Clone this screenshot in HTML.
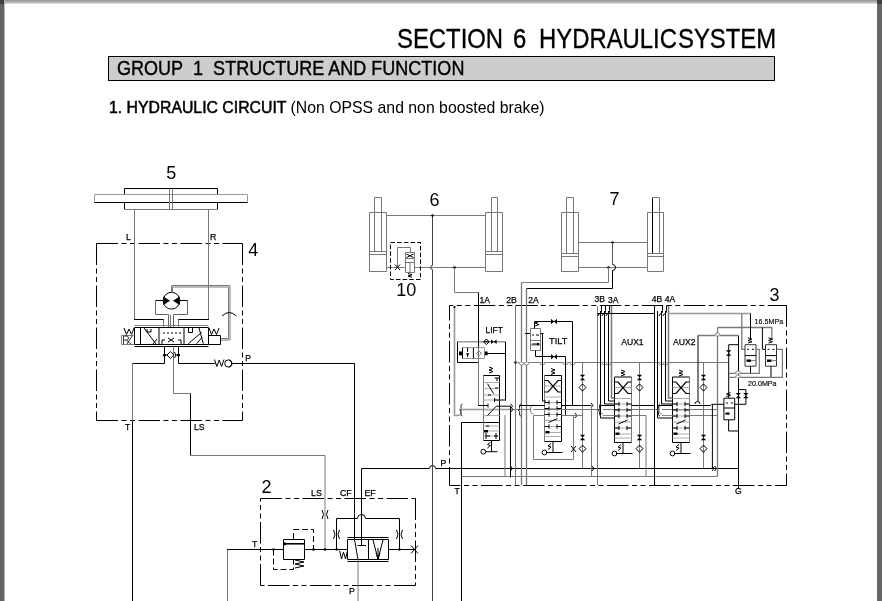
<!DOCTYPE html>
<html><head><meta charset="utf-8">
<style>
html,body{margin:0;padding:0;background:#fff;}
body{width:882px;height:601px;position:relative;overflow:hidden;font-family:"Liberation Sans",sans-serif;color:#111;}
.fr{position:absolute;}
#ft{left:0;top:0;width:882px;height:4px;background:linear-gradient(#969696,#a4a4a4 30%,#c4c4c4 70%,#e8e8e8);}
#fl{left:0;top:0;width:4px;height:601px;background:#646464;border-right:1px solid #b4b4b4;}
#fr{left:877px;top:0;width:5px;height:601px;background:#666;}
#fl2{left:0;top:0;width:4px;height:4px;background:#404040;}
#fr2{left:877px;top:0;width:5px;height:4px;background:#404040;}
.t{position:absolute;white-space:nowrap;line-height:1;filter:grayscale(1);}
.h1{top:24.8px;font-size:27.6px;transform:scaleX(0.865);transform-origin:0 0;-webkit-text-stroke:0.35px #000;color:#000;}
#gb{left:108px;top:56px;width:665px;height:23px;background:#cdcdcd;border:1px solid #000;}
#h2{left:116.8px;top:58.3px;font-size:20.6px;transform:scaleX(0.875);transform-origin:0 0;-webkit-text-stroke:0.4px #000;color:#000;}
#h3{left:109px;top:99.3px;font-size:17px;transform:scaleX(0.93);transform-origin:0 0;color:#000;}
#h3 b{font-weight:normal;-webkit-text-stroke:0.55px #000;}
svg{position:absolute;left:0;top:0;filter:grayscale(1);}
</style></head><body>
<div class="fr" id="ft"></div>
<div class="fr" id="fl"></div>
<div class="fr" id="fr"></div>
<div class="fr" id="fl2"></div>
<div class="fr" id="fr2"></div>
<div class="t h1" style="left:397.2px">SECTION</div><div class="t h1" style="left:512.8px">6</div><div class="t h1" style="left:538.6px">HYDRAULIC</div><div class="t h1" style="left:678.2px">SYSTEM</div>
<div class="fr" id="gb"></div>
<div class="t" id="h2">GROUP&nbsp; 1&nbsp; STRUCTURE AND FUNCTION</div>
<div class="t" id="h3"><b>1. HYDRAULIC CIRCUIT</b> (Non OPSS and non boosted brake)</div>
<svg width="882" height="601" viewBox="0 0 882 601">
<defs><style>
.k{stroke:#000;stroke-width:1;fill:none}
.k2{stroke:#111;stroke-width:1.3;fill:none}
.g{stroke:#787878;stroke-width:1;fill:none}
.g2{stroke:#999;stroke-width:1;fill:none}
.dd{stroke:#000;stroke-width:1;fill:none;stroke-dasharray:21.5 3.5 5 3.5 5 3.5}
.da{stroke:#000;stroke-width:1;fill:none;stroke-dasharray:6 3}
.fk{fill:#000;stroke:none}
.lb{font-family:"Liberation Sans",sans-serif;fill:#000}
.sm{stroke:#000;stroke-width:0.25}
</style></defs>
<!-- ===== 5 steering cylinder ===== -->
<g id="p5">
<text class="lb" x="166.2" y="178.6" font-size="18">5</text>
<path class="k" d="M124.5,194.5 V188.5 H217.5 V194.5 M124.5,202.5 V209.5 M217.5,202.5 V209.5"/>
<path class="g" d="M124.5,209.5 H217.5"/>
<path class="g" d="M94.5,194.5 H247.5 M94.5,194.5 V202.5 M247.5,194.5 V202.5" style="stroke:#999"/>
<path class="k" d="M94.5,202.5 H247.5"/>
<path class="g" d="M169.5,188.5 V209 M172.5,188.5 V209"/>
</g>
<!-- ===== 4 steering unit ===== -->
<g id="p4">
<text class="lb" x="248.3" y="255.7" font-size="18">4</text>
<text class="lb sm" x="126.1" y="240" font-size="8.8">L</text>
<text class="lb sm" x="209.9" y="240" font-size="8.8">R</text>
<path class="dd" d="M96.5,243.5 H242.5"/>
<path class="dd" d="M96.5,243.5 V420.5"/>
<path class="dd" d="M242.5,243.5 V420.5"/>
<path class="dd" d="M96.5,420.5 H242.5"/>
<path class="g" d="M134.5,209 V319.5"/><path class="k" d="M134,319.5 H164"/><path class="g" d="M163.5,319.5 V327"/>
<path class="g" d="M208.5,209 V319.5"/><path class="k" d="M178,319.5 H209"/><path class="g" d="M178.5,319.5 V327"/>
<circle class="k" cx="171.5" cy="300.7" r="8.4"/>
<path class="fk" d="M163.4,296.5 L170,300.7 L163.4,304.9 Z M179.6,296.5 L173,300.7 L179.6,304.9 Z"/>
<path class="k" d="M163,300.5 H155.5 M180,300.5 H187.5"/><path class="g" d="M155.5,300.5 V314.5 H168.5 V327 M187.5,300.5 V314.5 H173.5 V327" style="stroke:#666"/>
<path class="g" d="M170.5,314.5 V327 M171.5,292.3 V285.5 H230 V340 H221"/>
<path class="g" d="M172.5,292.3 V287 H228.5 V338.5 H221"/>
<path class="k" d="M222,316 Q229,309 236.5,316"/>
<path class="g" d="M134.5,325.5 H208.5" style="stroke:#888"/>
<path class="k" d="M134.5,327.5 H208.5 V344.5 H134.5 Z"/>
<path class="k" d="M159,327.5 V344.5 M184,327.5 V344.5"/>
<path class="k" d="M134.5,346.5 H208.5"/>
<path class="k" d="M208.5,335.5 H220.5 V344.5 H208.5"/>
<path class="k" d="M209,328 L211.5,334.5 L214,329 L216.5,334.5 L219,328"/>
<path class="g" d="M121.5,335.5 H134.5 M121.5,335.5 V344.5 H134.5"/>
<path class="k" d="M124,328 L126.5,334.5 L129,329 L131.5,334.5 L134,328"/>
<path class="g" d="M123.5,336 V344 M123.5,336 h3 a2,2 0 0 1 0,4 h-3 M126,340 L131,344 M127,344 L132,336" style="stroke:#333"/>
<!-- left section -->
<path class="k" d="M140.5,327.5 V344.5 M144,328 L156,344 M147,329 V332 H151 V329"/>
<path class="k" d="M153,344 L157,339"/>
<!-- middle section -->
<path class="k" d="M163,333 h2 M167,333 h2 M171,333 h2 M175,333 h2 M179,333 h2"/>
<path class="k" d="M168,338 L174,342 M168,342 L174,338 M162,344 V340 H165 M178,340 H181 V344"/>
<!-- right section -->
<path class="k" d="M188.3,343.7 L201.7,332.3 M196.6,343.7 L202,337.5 M199,328 L203.3,343.7 M188.5,328 V332.5 H192.5 V328"/>
<!-- below valve -->
<path class="k" d="M164.5,346.5 V363.5 H132.5"/><path class="g" d="M132.5,363.5 V421"/><path class="k" d="M132.5,421 V601"/>
<path class="k" d="M178.5,346.5 V363.5 H215"/>
<path class="k" d="M231,363.5 H354.5 V545"/>
<path class="g" d="M173.5,346.5 V393.5 H190.5"/><path class="k" d="M190.5,393.5 V455.5"/><path class="g" d="M190.5,455.5 H325 V549"/>
<circle class="fk" cx="164.5" cy="355" r="1.6"/>
<circle class="fk" cx="178.5" cy="355" r="1.6"/>
<path class="k" d="M164.5,355 H167 M175,355 H178.5 M170.4,351.5 L167,355 L170.4,358.5 L173.8,355 Z M174.5,352 Q177,355 174.5,358"/>
<path class="k" d="M214.5,359.5 L216.8,366.5 L219.2,360 L221.6,366.5 L224,359.5"/>
<circle class="k" cx="228.3" cy="363.5" r="3.6" fill="#fff"/><path class="k" d="M229.5,359.5 L232.5,363.5 L229.5,367.5"/>
<text class="lb sm" x="245.3" y="360.9" font-size="8.6">P</text>
<text class="lb sm" x="125" y="429.5" font-size="8.6">T</text>
<text class="lb sm" x="193.9" y="429.5" font-size="8.6">LS</text>
</g>
<!-- ===== 2 priority valve ===== -->
<g id="p2">
<text class="lb" x="261.6" y="492.8" font-size="18">2</text>
<text class="lb sm" x="311" y="496" font-size="8.8">LS</text>
<text class="lb sm" x="340" y="496" font-size="8.8">CF</text>
<text class="lb sm" x="364.5" y="496" font-size="8.8">EF</text>
<text class="lb sm" x="252" y="547" font-size="8.8">T</text>
<text class="lb sm" x="349" y="594" font-size="8.8">P</text>
<path class="dd" d="M260.5,498.5 H415.5"/>
<path class="dd" d="M260.5,585.5 V498.5"/>
<path class="dd" d="M415.5,498.5 V585.5"/>
<path class="dd" d="M415.5,585.5 H260.5"/>
<path class="g" d="M227.5,601 V549.5"/><path class="k" d="M227,549.5 H414.5"/>
<path class="k" d="M411,545.5 L418,553.5 M411,553.5 L418,545.5"/>
<!-- relief -->
<path class="k" d="M283.5,539.5 H304.5 V559.5 H283.5 Z" style="fill:#fff"/>
<path d="M283.5,543.8 H304.5" stroke="#000" stroke-width="1.6"/><path class="fk" d="M284,542 l3.5,1.8 l-3.5,1.8 z"/>
<path class="k" d="M295,560 L304,562 L295,564 L304,566 L295,568"/>
<path class="da" d="M273.5,549.5 V569.5 H293.5 V560"/>
<path class="da" d="M293.5,539 V529.5 H313.5 V549.5"/>
<circle class="fk" cx="273.5" cy="549.5" r="1.3"/>
<circle class="fk" cx="313.5" cy="549.5" r="1.3"/>
<circle class="fk" cx="325" cy="549.5" r="1.3"/>
<circle class="fk" cx="336.5" cy="549.5" r="1.3"/>
<circle class="fk" cx="399.5" cy="549.5" r="1.3"/>
<!-- LS restrictor -->
<path class="k" d="M322,510 Q325,514.5 322,519 M328,510 Q325,514.5 328,519"/>
<!-- side pilot -->
<path class="k" d="M336.5,549.5 V518.5 H357.5 A4,4 0 0 1 365.5,518.5 H399.5 V549.5"/>
<path class="k" d="M333.5,530 Q336.5,534.5 333.5,539 M339.5,530 Q336.5,534.5 339.5,539"/>
<path class="k" d="M396.5,530 Q399.5,534.5 396.5,539 M402.5,530 Q399.5,534.5 402.5,539"/>
<!-- priority spool -->
<path class="k" d="M347.5,537.5 H388.5 M347.5,561.5 H388.5"/>
<path class="k" d="M347.5,539.5 H388.5 V559.5 H347.5 Z M368.5,539.5 V559.5" style="fill:#fff"/>
<path class="k" d="M339.5,550.5 L341.5,559 L343.5,552 L345.5,559 L347.5,550.5"/>
<path class="k" d="M354.5,363.5 V539.5 L358,559.5"/>
<path class="k" d="M361.5,468.5 V545 M357.5,545.5 H366"/>
<path class="g" d="M358,559.5 V601"/>
<path class="k" d="M373,540 L378,559 L383,540 M378,548 L378,559 M376,553 L378,559 L380,553"/>
<path class="k" d="M361.5,468.5 H429.5 A3,3 0 0 1 435.5,468.5 H449.5"/>
</g>
<!-- ===== 6 lift cylinders ===== -->
<g id="p6">
<text class="lb" x="429.6" y="205.6" font-size="18">6</text>
<text class="lb" x="396.3" y="295.7" font-size="18">10</text>
<path class="g" d="M369.5,212.5 H386.5 V271.5 H369.5 Z M374.5,251.5 V197.5 H381.5 V251.5 M369.5,251.5 H386.5 M369.5,254.5 H386.5"/>
<path class="g" d="M485.5,212.5 H502.5 V271.5 H485.5 Z M491.5,251.5 V197.5 H497.5 V251.5 M485.5,251.5 H502.5 M485.5,254.5 H502.5"/>
<path class="g" d="M386.5,215.5 H485.5 M386.5,267.5 H485.5"/>
<path class="k" d="M432.5,215.5 V265.5 A2,2 0 0 0 432.5,269.5 V601" style="stroke:#444"/>
<circle class="fk" cx="432.5" cy="215.5" r="1.2"/>
<circle class="fk" cx="454.5" cy="267.5" r="1.3"/>
<path class="g" d="M454.5,267.5 V292.5 H478.5"/>

<!-- valve 10 -->
<path class="dd" d="M390.5,242.5 H420.5 V279.5 H390.5 Z" style="stroke-dasharray:4.5 2.2"/>
<path class="g" d="M397.5,267.5 V247.5 H410.5 V252.5"/>
<path class="g" fill="#fff" d="M405.5,252.5 H414.5 V272.5 H405.5 Z" style="fill:#fff"/><path class="g" d="M405.5,258.5 H414.5 M405.5,262.5 H414.5 M410,262.5 V272.5"/>
<path class="k" d="M406.5,254 L413.5,257.5 M406.5,257.5 L413.5,254"/>
<path class="k" d="M408,273.5 L412,274.7 L408,276 L412,277.2"/>
<path class="k" d="M395,264.5 L400,270 M395,270 L400,264.5"/>
<text class="lb sm" x="479.5" y="302.8" font-size="8.6">1A</text>
<text class="lb sm" x="506.2" y="302.8" font-size="8.6">2B</text>
<text class="lb sm" x="528.3" y="302.8" font-size="8.6">2A</text>
</g>
<!-- ===== 7 tilt cylinders ===== -->
<g id="p7">
<text class="lb" x="609.4" y="204.9" font-size="18">7</text>
<path class="g" d="M561.5,212.5 H578.5 V271.5 H561.5 Z M566.5,253.5 V197.5 H573.5 V253.5 M561.5,253.5 H578.5 M561.5,256.5 H578.5"/>
<path class="g" d="M647.5,212.5 H663.5 V271.5 H647.5 Z M652.5,253.5 V197.5 H659.5 V253.5 M647.5,253.5 H663.5 M647.5,256.5 H663.5"/>
<path class="k" d="M652.5,198 V253"/>
<path class="g" d="M578.5,242.5 H647.5 M578.5,267.5 H647.5"/>
<circle class="fk" cx="612.5" cy="242.5" r="1.2"/>
<circle class="fk" cx="608.5" cy="267.5" r="1.2"/>
<path class="g" d="M612.5,242.5 V264.5" style="stroke:#555"/><path class="k" d="M612.5,264.5 A3,3 0 0 1 612.5,270.5 V288.5 H526.5"/>
<path class="g" d="M608.5,267.5 V282.5 H521.5"/>
</g>
<!-- ===== 3 main control valve ===== -->
<g id="p3">
<text class="lb" x="769.4" y="300.7" font-size="18">3</text>
<path class="k" d="M768,305.5 H786.5 V318"/>
<path class="dd" d="M449.5,305.5 H786.5" style="stroke-dashoffset:17.7"/>
<path class="dd" d="M449.5,305.5 V485.5" style="stroke-dashoffset:6.5"/>
<path class="dd" d="M786.5,305.5 V485.5" style="stroke-dashoffset:0"/>
<path class="dd" d="M786.5,485.5 H449.5" style="stroke-dashoffset:10"/>
<path class="k" d="M515.5,305.5 H538"/>
<text class="lb sm" x="594.6" y="302" font-size="8.6">3B</text>
<text class="lb sm" x="608" y="303.3" font-size="8.6">3A</text>
<text class="lb sm" x="651.7" y="302" font-size="8.6">4B</text>
<text class="lb sm" x="664.8" y="302" font-size="8.6">4A</text>
<text class="lb sm" x="485.6" y="332.8" font-size="9.6" textLength="17.2" lengthAdjust="spacingAndGlyphs">LIFT</text>
<text class="lb sm" x="549.1" y="343.9" font-size="9.9" textLength="18.2" lengthAdjust="spacingAndGlyphs">TILT</text>
<text class="lb sm" x="621.3" y="345" font-size="9.6" textLength="22.3" lengthAdjust="spacingAndGlyphs">AUX1</text>
<text class="lb sm" x="673" y="345" font-size="9.6" textLength="22.6" lengthAdjust="spacingAndGlyphs">AUX2</text>
<text class="lb sm" x="754.6" y="323.5" font-size="7.6" textLength="28.6" lengthAdjust="spacingAndGlyphs" style="stroke-width:0.15">16.5MPa</text>
<text class="lb sm" x="748" y="386" font-size="7.6" textLength="28.6" lengthAdjust="spacingAndGlyphs" style="stroke-width:0.15">20.0MPa</text>
<text class="lb sm" x="440.5" y="465.5" font-size="8.6">P</text>
<text class="lb sm" x="454.5" y="494.3" font-size="8.6">T</text>
<text class="lb sm" x="735" y="494.3" font-size="8.6">G</text>
<path class="k" d="M449.5,468.5 H738.5" />
<path class="g" d="M461.5,476.5 H717.5" />
<path class="k" d="M461.5,422.5 V601" />
<path class="k" d="M461.5,422.5 H499.5" />
<path class="k" d="M738.5,335.5 V489" />
<path class="g" d="M454.5,306 V415.5 H459" style="stroke-width:1.6;stroke:#999"/>
<circle class="fk" cx="454.5" cy="307" r="1.1"/>
<path class="g" d="M459,415.5 a3,3 0 0 0 2,-3 a3,3 0 0 1 1,-3 M461,409.5 H512" style="stroke-width:1.4;stroke:#999"/>
<path class="k" d="M511,407.0 L513,409.5 L511,412.0" />
<path class="g" d="M457.5,341.8 H505.5" style="stroke-width:1.6;stroke:#999"/>
<path class="k" d="M457.5,341.8 V362.5 H478.5 M505.5,341.8 V400.5 M487,353.5 H505.5" />
<path class="g" d="M462.5,347.6 H484.5 V358.5 H462.5" style="stroke:#999"/>
<path class="k" d="M462.5,347.6 V358.5 M467.6,347.6 V352 M473.4,347.6 V358.5" />
<path class="fk" d="M466.3,353 h2.6 l-1.3,5 z M459,351.6 h3.5 v3.6 h-3.5 z M484.8,351.6 h2.8 v3.6 h-2.8 z"/>
<path class="k" d="M478.9,351 l2.4,2.4 l-2.4,2.4 l-2.4,-2.4 z" style="stroke:#666"/>
<path class="k" d="M478.5,292.5 V347.6" />
<path class="g" d="M478.5,347.6 V362.5" />
<path class="k" d="M486.4,339 l2.8,2.8 l-2.8,2.8 l-2.8,-2.8 z M483.6,341.8 h5.6" fill="#fff"/>
<path class="fk" d="M491,339.5 l5.6,4.6 v-4.6 l-5.6,4.6 z"/>
<path class="g" d="M483.5,375.5 V440.5" />
<path class="k" d="M483.5,375.5 H499.5 V440.5 H483.5" />
<path class="g" d="M483.5,382.5 H499.5" style="stroke:#aaa"/>
<path class="g" d="M483.5,388.7 H499.5" style="stroke:#aaa"/>
<path class="g" d="M483.5,395 H499.5" style="stroke:#aaa"/>
<path class="g" d="M483.5,400 H499.5" style="stroke:#aaa"/>
<path class="g" d="M483.5,409.7 H499.5" style="stroke:#aaa"/>
<path class="g" d="M483.5,415.6 H499.5" style="stroke:#aaa"/>
<path class="g" d="M483.5,426 H499.5" style="stroke:#aaa"/>
<path class="g" d="M483.5,431 H499.5" style="stroke:#aaa"/>
<path class="g" d="M483.5,436 H499.5" style="stroke:#aaa"/>
<path class="k" d="M494.5,378 H499.5 M497,378 V381 M494.5,400 H505.5 V362.5 M494.5,398 V402" />
<path class="k" d="M487.5,383.7 L493.7,393.7 M488,395 h3 M495,388 h3" />
<path class="g" d="M478.5,362 V405.5" />
<path class="k" d="M478,405.5 H488 M488,403.5 V407.5" />
<path class="k" d="M487.5,415.6 L496.2,406.2 H510.5" />
<path class="k" d="M510.5,403.7 L512.5,406.2 L510.5,408.7" />
<path class="k" d="M486,426 h3 M486,436 h4 M494,436 h4 M486,433 V439 M496,433 V439" />
<path class="fk" d="M484,430 h4 v2.5 h-4 z"/>
<path class="k" d="M491.5,440.5 V451.7 M485.5,451.7 H497.5 M487.5,448 l3,-2.5 l-3,-1 l3,-2.5" />
<circle class="k" cx="483.3" cy="451.7" r="2.4" fill="#fff"/>
<path class="k" d="M489,373 l4,-1.5 l-4,-1.5 l4,-1.5 l-4,-1.5" />
<path class="g" d="M505,415 V476.5" />
<path class="k" d="M510.5,406 V477.5" />
<path class="g" d="M515.5,305.5 V485" />
<path class="g" d="M521.5,282.5 V485 M526.5,288.5 V485" style="stroke-width:1.3;stroke:#777"/>
<circle class="fk" cx="515.5" cy="362.5" r="1.3"/>
<path class="g" d="M515.5,362.5 H728.7" />
<path d="M519.0,362.5 a2.5,2.5 0 0 0 5,0" stroke="#888" fill="#fff" stroke-width="1"/>
<path d="M524.0,362.5 a2.5,2.5 0 0 0 5,0" stroke="#888" fill="#fff" stroke-width="1"/>
<path d="M540.0,362.5 a2.5,2.5 0 0 0 5,0" stroke="#888" fill="#fff" stroke-width="1"/>
<path d="M563.0,362.5 a2.5,2.5 0 0 0 5,0" stroke="#888" fill="#fff" stroke-width="1"/>
<path d="M570.0,362.5 a2.5,2.5 0 0 0 5,0" stroke="#888" fill="#fff" stroke-width="1"/>
<path d="M602.0,362.5 a2.5,2.5 0 0 0 5,0" stroke="#888" fill="#fff" stroke-width="1"/>
<path d="M606.0,362.5 a2.5,2.5 0 0 0 5,0" stroke="#888" fill="#fff" stroke-width="1"/>
<path d="M659.0,362.5 a2.5,2.5 0 0 0 5,0" stroke="#888" fill="#fff" stroke-width="1"/>
<path d="M663.0,362.5 a2.5,2.5 0 0 0 5,0" stroke="#888" fill="#fff" stroke-width="1"/>
<path class="g" d="M530.5,328.5 H540.5 V350.5 H530.5 Z M530.5,340.5 H540.5 M530.5,345 H540.5" />
<path class="k" d="M532,335 h2 M536,335 h3 M532,344 H539 M525,333.5 h5 M540.5,333.5 h3" />
<path class="fk" d="M537,342.5 l3,1.5 l-3,1.5 z"/>
<path class="k" d="M534.5,328.5 V321.5 H572.5 V405.5" />
<path class="fk" d="M551,318.8 l6,5.4 v-5.4 l-6,5.4 z"/>
<path class="k" d="M535.5,350.5 V356.5 H565.5 V415.5" />
<path class="fk" d="M551,354 l6,5.4 v-5.4 l-6,5.4 z"/>
<path class="k" d="M535,326 l4,-1.5 l-4,-1.5 l4,-1.5" />
<path class="k" d="M542.5,333.5 V401" />
<path class="g" d="M544.5,375.5 V441.5" />
<path class="k" d="M561.5,375.5 V441.5" />
<path class="k" d="M544.5,375.5 H561.5 M544.5,441.5 H561.5" />
<path class="g" d="M544.5,386.0 H561.5" style="stroke:#aaa"/>
<path class="g" d="M544.5,397.0 H561.5" style="stroke:#aaa"/>
<path class="g" d="M544.5,402.5 H561.5" style="stroke:#aaa"/>
<path class="g" d="M544.5,408.5 H561.5" style="stroke:#aaa"/>
<path class="g" d="M544.5,414.5 H561.5" style="stroke:#aaa"/>
<path class="g" d="M544.5,420.5 H561.5" style="stroke:#aaa"/>
<path class="g" d="M544.5,426.5 H561.5" style="stroke:#aaa"/>
<path class="g" d="M544.5,432.5 H561.5" style="stroke:#aaa"/>
<path class="g" d="M544.5,436.5 H561.5" style="stroke:#aaa"/>
<path class="k" d="M544.5,380.5 H548.0 L558.0,392.0 H561.5 M561.5,380.5 H558.0 L548.0,392.0 H544.5" style="stroke-width:1.2"/>
<path class="k" d="M544.5,402.5 h4.5 M549.0,400.3 v4.4 M561.5,402.5 h-4.5 M557.0,400.3 v4.4" />
<path class="k" d="M544.5,408.5 h4.5 M549.0,406.3 v4.4 M561.5,408.5 h-4.5 M557.0,406.3 v4.4" />
<path class="k" d="M544.5,414.5 h4.5 M549.0,412.3 v4.4 M561.5,414.5 h-4.5 M557.0,412.3 v4.4" />
<path class="k" d="M544.5,426.5 h4.5 M549.0,424.3 v4.4 M561.5,426.5 h-4.5 M557.0,424.3 v4.4" />
<path class="k" d="M548.5,422.5 L557.5,418.5" />
<path class="fk" d="M545.5,431.0 h4 v2.4 h-4 z"/>
<path class="k" d="M551.0,374.5 l4,-1.5 l-4,-1.5 l4,-1.5 l-4,-1.5"/>
<path class="k" d="M553.0,441.5 V452.5 M546.0,452.5 H562.5" />
<path class="k" d="M548.0,449.5 l3,-2.5 l-3,-1 l3,-2.5" />
<circle class="k" cx="544.5" cy="452.5" r="2.4" fill="#fff"/>
<path class="k" d="M526.5,405.5 H544.5 M561.5,405.5 H591" />
<path class="k" d="M591,403.0 L593,405.5 L591,408.0" />
<path class="k" d="M542.5,401 H546" />
<path class="g" d="M512,409.5 H717.5" style="stroke-width:1.2"/>
<path d="M533.5,405 a3,4.5 0 0 0 0,9" class="g" style="stroke:#777;fill:#fff"/>
<path d="M603,405 a3,4.5 0 0 0 0,9" class="g" style="stroke:#777;fill:#fff"/>
<path d="M662,405 a3,4.5 0 0 0 0,9" class="g" style="stroke:#777;fill:#fff"/>
<path class="k" d="M561.5,415.5 H575" />
<path class="k" d="M575,413.0 L577,415.5 L575,418.0" />
<path class="g" d="M533.5,415.5 H544.5 M533.5,415.5 V459.5 H573.5 V415.5 M561.5,415.5 H583" />
<path class="g" d="M582.5,362.5 V404" />
<path class="fk" d="M579.8,374.8 l5.4,5.4 h-5.4 l5.4,-5.4 z"/>
<path class="k" d="M582.5,383.9 l3.4,3.6 l-3.4,3.6 l-3.4,-3.6 z" fill="#fff"/>
<path class="g" d="M582.5,404 V468.5" />
<path class="fk" d="M579.8,434.8 l5.4,5.4 h-5.4 l5.4,-5.4 z"/>
<path class="k" d="M582.5,445.09999999999997 l3.4,3.6 l-3.4,3.6 l-3.4,-3.6 z" fill="#fff"/>
<path class="g" d="M639.5,362.5 V404" />
<path class="fk" d="M636.8,374.8 l5.4,5.4 h-5.4 l5.4,-5.4 z"/>
<path class="k" d="M639.5,383.9 l3.4,3.6 l-3.4,3.6 l-3.4,-3.6 z" fill="#fff"/>
<path class="g" d="M639.5,404 V468.5" />
<path class="fk" d="M636.8,434.8 l5.4,5.4 h-5.4 l5.4,-5.4 z"/>
<path class="k" d="M639.5,445.09999999999997 l3.4,3.6 l-3.4,3.6 l-3.4,-3.6 z" fill="#fff"/>
<path class="g" d="M703.5,362.5 V404" />
<path class="fk" d="M700.8,374.8 l5.4,5.4 h-5.4 l5.4,-5.4 z"/>
<path class="k" d="M703.5,383.9 l3.4,3.6 l-3.4,3.6 l-3.4,-3.6 z" fill="#fff"/>
<path class="g" d="M703.5,404 V468.5" />
<path class="fk" d="M700.8,434.8 l5.4,5.4 h-5.4 l5.4,-5.4 z"/>
<path class="k" d="M703.5,445.09999999999997 l3.4,3.6 l-3.4,3.6 l-3.4,-3.6 z" fill="#fff"/>
<path class="k" d="M571,446 l5,6 M571,452 l5,-6" />
<path class="g" d="M597.5,306 V485" />
<path class="k" d="M600.5,311 V418 H614.5 M604.5,311 V404 H614.5 M608.5,311 V401 H614.5" />
<path class="g" d="M611.5,306 V398 H614.5" style="stroke-width:1.5"/>
<path class="k" d="M597.5,313.5 H654.5" />
<path class="k" d="M598.0,316 a3,3 0 0 1 2.5,-2.5 a3,3 0 0 0 1,-3 V305.5" />
<path class="k" d="M602.0,316 a3,3 0 0 1 2.5,-2.5 a3,3 0 0 0 1,-3 V305.5" />
<path class="k" d="M606.0,316 a3,3 0 0 1 2.5,-2.5 a3,3 0 0 0 1,-3 V305.5" />
<path class="k" d="M654.5,306 V485.5" />
<path class="k" d="M657.5,311 V418 H672.5 M661.5,311 V404 H672.5 M665.5,311 V401 H672.5" />
<path class="g" d="M668.5,306 V398 H672.5" style="stroke-width:1.5"/>
<path class="k" d="M659.0,316 a3,3 0 0 1 2.5,-2.5 a3,3 0 0 0 1,-3 V305.5" />
<path class="k" d="M663.0,316 a3,3 0 0 1 2.5,-2.5 a3,3 0 0 0 1,-3 V305.5" />
<path class="g" d="M668.5,313.5 H750.5" style="stroke-width:1.6;stroke:#999"/>
<path class="k" d="M614.5,377 V442.5" />
<path class="g" d="M631.5,377 V442.5" />
<path class="k" d="M614.5,377 H631.5 M614.5,442.5 H631.5" />
<path class="g" d="M614.5,387.5 H631.5" style="stroke:#aaa"/>
<path class="g" d="M614.5,398.5 H631.5" style="stroke:#aaa"/>
<path class="g" d="M614.5,404 H631.5" style="stroke:#aaa"/>
<path class="g" d="M614.5,410 H631.5" style="stroke:#aaa"/>
<path class="g" d="M614.5,416 H631.5" style="stroke:#aaa"/>
<path class="g" d="M614.5,422 H631.5" style="stroke:#aaa"/>
<path class="g" d="M614.5,428 H631.5" style="stroke:#aaa"/>
<path class="g" d="M614.5,434 H631.5" style="stroke:#aaa"/>
<path class="g" d="M614.5,438 H631.5" style="stroke:#aaa"/>
<path class="k" d="M614.5,382 H618.0 L628.0,393.5 H631.5 M631.5,382 H628.0 L618.0,393.5 H614.5" style="stroke-width:1.2"/>
<path class="k" d="M614.5,404 h4.5 M619.0,401.8 v4.4 M631.5,404 h-4.5 M627.0,401.8 v4.4" />
<path class="k" d="M614.5,410 h4.5 M619.0,407.8 v4.4 M631.5,410 h-4.5 M627.0,407.8 v4.4" />
<path class="k" d="M614.5,416 h4.5 M619.0,413.8 v4.4 M631.5,416 h-4.5 M627.0,413.8 v4.4" />
<path class="k" d="M614.5,428 h4.5 M619.0,425.8 v4.4 M631.5,428 h-4.5 M627.0,425.8 v4.4" />
<path class="k" d="M618.5,424 L627.5,420" />
<path class="fk" d="M615.5,432.5 h4 v2.4 h-4 z"/>
<path class="k" d="M621.0,376 l4,-1.5 l-4,-1.5 l4,-1.5 l-4,-1.5"/>
<path class="k" d="M623.0,442.5 V453.5 M616.0,453.5 H632.5" />
<path class="k" d="M618.0,450.5 l3,-2.5 l-3,-1 l3,-2.5" />
<circle class="k" cx="614.5" cy="453.5" r="2.4" fill="#fff"/>
<path class="k" d="M672.5,377 V442.5" />
<path class="g" d="M689.5,377 V442.5" />
<path class="k" d="M672.5,377 H689.5 M672.5,442.5 H689.5" />
<path class="g" d="M672.5,387.5 H689.5" style="stroke:#aaa"/>
<path class="g" d="M672.5,398.5 H689.5" style="stroke:#aaa"/>
<path class="g" d="M672.5,404 H689.5" style="stroke:#aaa"/>
<path class="g" d="M672.5,410 H689.5" style="stroke:#aaa"/>
<path class="g" d="M672.5,416 H689.5" style="stroke:#aaa"/>
<path class="g" d="M672.5,422 H689.5" style="stroke:#aaa"/>
<path class="g" d="M672.5,428 H689.5" style="stroke:#aaa"/>
<path class="g" d="M672.5,434 H689.5" style="stroke:#aaa"/>
<path class="g" d="M672.5,438 H689.5" style="stroke:#aaa"/>
<path class="k" d="M672.5,382 H676.0 L686.0,393.5 H689.5 M689.5,382 H686.0 L676.0,393.5 H672.5" style="stroke-width:1.2"/>
<path class="k" d="M672.5,404 h4.5 M677.0,401.8 v4.4 M689.5,404 h-4.5 M685.0,401.8 v4.4" />
<path class="k" d="M672.5,410 h4.5 M677.0,407.8 v4.4 M689.5,410 h-4.5 M685.0,407.8 v4.4" />
<path class="k" d="M672.5,416 h4.5 M677.0,413.8 v4.4 M689.5,416 h-4.5 M685.0,413.8 v4.4" />
<path class="k" d="M672.5,428 h4.5 M677.0,425.8 v4.4 M689.5,428 h-4.5 M685.0,425.8 v4.4" />
<path class="k" d="M676.5,424 L685.5,420" />
<path class="fk" d="M673.5,432.5 h4 v2.4 h-4 z"/>
<path class="k" d="M679.0,376 l4,-1.5 l-4,-1.5 l4,-1.5 l-4,-1.5"/>
<path class="k" d="M681.0,442.5 V453.5 M674.0,453.5 H690.5" />
<path class="k" d="M676.0,450.5 l3,-2.5 l-3,-1 l3,-2.5" />
<circle class="k" cx="672.5" cy="453.5" r="2.4" fill="#fff"/>
<path class="k" d="M631.5,405.5 H654.5 M689.5,405.5 H711" />
<path class="g" d="M631.5,415.5 H646 V476.5 M689.5,415.5 H717.5" />
<path class="g" d="M591.5,405.5 V477" />
<path class="k" d="M712,466.0 L714,468.5 L712,471.0" />
<path class="k" d="M592,466.0 L594,468.5 L592,471.0" />
<path class="k" d="M510.5,466.0 L512.5,468.5 L510.5,471.0" />
<path class="k" d="M714.5,466.0 L716.5,468.5 L714.5,471.0" />
<path class="g" d="M741.8,313.5 V349.3 H745 M717.5,327.5 H771.8 V340" style="stroke-width:1.3"/>
<path class="k" d="M750.5,313.5 V340 M762.4,327.5 V349.3 H765.5" />
<path class="g" d="M717.5,327.5 V476.5" style="stroke-width:1.3"/>
<path class="g" d="M698,335.5 H738.5" style="stroke-width:1.3"/>
<path class="k" d="M698,335.5 V404" />
<path d="M715,335.5 a2.5,2.5 0 0 1 5,0" stroke="#888" fill="#fff"/>
<path class="k" d="M728.7,344.7 H738.5 M728.7,344.7 V398.2" />
<path class="fk" d="M726,350.3 l5.4,5.4 h-5.4 l5.4,-5.4 z"/>
<path class="g" d="M745,344.7 H756 V366.2 H745 Z" style="stroke:#333"/>
<path class="k" d="M745,355.6 H756 M747,349.3 h2 M752,349.3 h2" />
<path class="fk" d="M746.5,359.5 h4.5 v2.4 h-4.5 z"/>
<path class="g" d="M751,360.6 H756" />
<path class="k" d="M748.0,343 l4,-1.3 l-4,-1.3 l4,-1.3 l-4,-1.3" />
<path class="k" d="M750.5,366.2 V373.4" />
<path class="g" d="M765.5,344.7 H776.5 V366.2 H765.5 Z" style="stroke:#333"/>
<path class="k" d="M765.5,355.6 H776.5 M767.5,349.3 h2 M772.5,349.3 h2" />
<path class="fk" d="M767.0,359.5 h4.5 v2.4 h-4.5 z"/>
<path class="g" d="M771.5,360.6 H776.5" />
<path class="k" d="M768.5,343 l4,-1.3 l-4,-1.3 l4,-1.3 l-4,-1.3" />
<path class="k" d="M771.0,366.2 V377.4" />
<path class="g" d="M756,349.3 H759.3 V373.4 H728.7 M776.5,349.3 H782.4 V377.4 H728.7" style="stroke-width:1.2"/>
<path d="M735.5,373.4 a2.5,2.5 0 0 1 5,0 M735.5,377.4 a2.5,2.5 0 0 1 5,0" stroke="#888" fill="#fff"/>
<path class="k" d="M723.9,398.2 H734.7 V419.8 H723.9 Z M723.9,408 H734.7 M726,403 h2 M731,403 h2" />
<path class="fk" d="M725.5,412.5 h4 v2.2 h-4 z"/>
<path class="k" d="M712.4,404.3 V468.5 M711.3,404.3 H723.9 M734.7,404.3 H745.9 V389.6 H738.5" />
<path class="fk" d="M735.6,392.9 l5.4,5.4 h-5.4 l5.4,-5.4 z M743.2,392.9 l5.4,5.4 h-5.4 l5.4,-5.4 z"/>
<path class="k" d="M728.6,419.8 V431 H738.5" />
<path class="k" d="M726.5,396.5 l4,-1.3 l-4,-1.3 l4,-1.3" />
<path d="M695,404 a2.5,2.5 0 0 1 5,0" stroke="#000" fill="#fff"/>
<path class="k" d="M519,405.5 H544.5 M561.5,405.5 H591 M599,405.5 H614.5 M631.5,405.5 H654.5 M658,405.5 H672.5 M689.5,405.5 H711" />
<path class="k" d="M462.5,404 q-1.5,0 -1.5,2 v2.5 q0,1.5 -1.5,1.5 q1.5,0 1.5,1.5 v2.5 q0,2 1.5,2" style="stroke:#333"/>
<path class="k" d="M521.0,404 q-1.5,0 -1.5,2 v2.5 q0,1.5 -1.5,1.5 q1.5,0 1.5,1.5 v2.5 q0,2 1.5,2" style="stroke:#333"/>
<path class="k" d="M601.0,404 q-1.5,0 -1.5,2 v2.5 q0,1.5 -1.5,1.5 q1.5,0 1.5,1.5 v2.5 q0,2 1.5,2" style="stroke:#333"/>
<path class="k" d="M660.0,404 q-1.5,0 -1.5,2 v2.5 q0,1.5 -1.5,1.5 q1.5,0 1.5,1.5 v2.5 q0,2 1.5,2" style="stroke:#333"/>
<path class="g" d="M603,415.5 H614.5 M662,415.5 H672.5" style="stroke:#888"/>
</g>
</svg>
</body></html>
